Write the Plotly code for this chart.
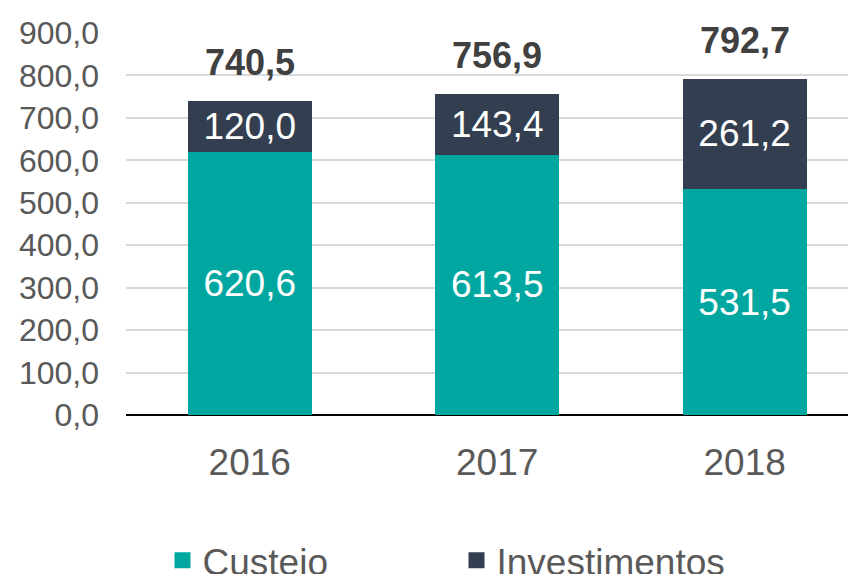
import plotly.graph_objects as go

anos = ["2016", "2017", "2018"]
custeio = [620.6, 613.5, 531.5]
investimentos = [120.0, 143.4, 261.2]
totais = [740.5, 756.9, 792.7]


def br(v):
    return f"{v:.1f}".replace(".", ",")


FONT = "Liberation Sans, Arial, sans-serif"
TEAL = "#00A7A1"
NAVY = "#333F50"

fig = go.Figure()
for nome, vals, cor in [("Custeio", custeio, TEAL), ("Investimentos", investimentos, NAVY)]:
    fig.add_trace(
        go.Bar(
            x=anos,
            y=vals,
            name=nome,
            marker=dict(color=cor, line=dict(width=0)),
            text=[br(v) for v in vals],
            textposition="inside",
            insidetextanchor="middle",
            textfont=dict(color="white", size=37, family=FONT),
            width=0.5,
            showlegend=False,
        )
    )

# itens da legenda (quadrados maiores)
for nome, cor in [("Custeio", TEAL), ("Investimentos", NAVY)]:
    fig.add_trace(
        go.Scatter(
            x=[None],
            y=[None],
            mode="markers",
            name=nome,
            marker=dict(symbol="square", size=19, color=cor),
        )
    )

# totais acima das barras
for i, t in enumerate(totais):
    fig.add_annotation(
        x=i,
        y=t,
        xref="x",
        yref="y",
        text=f"<b>{br(t)}</b>",
        showarrow=False,
        yanchor="middle",
        yshift=38,
        font=dict(size=36, color="#404040", family=FONT),
    )

fig.update_layout(
    barmode="stack",
    width=856,
    height=574,
    margin=dict(l=118, r=8, t=25, b=167, autoexpand=False),
    paper_bgcolor="white",
    plot_bgcolor="white",
    separators=",.",
    font=dict(family=FONT, color="#595959", size=32),
    uniformtext=dict(mode="show", minsize=30),
    legend=dict(
        orientation="h",
        traceorder="normal",
        itemsizing="trace",
        x=0.050,
        xanchor="left",
        yref="container",
        y=0.037,
        yanchor="middle",
        font=dict(size=37, color="#595959"),
        entrywidth=249,
        entrywidthmode="pixels",
    ),
    showlegend=True,
)
fig.update_xaxes(
    type="category",
    range=[-0.5, 2.45],
    showgrid=False,
    showline=False,
    ticks="",
    tickfont=dict(size=37, color="#595959"),
    ticklabelstandoff=22,
)
fig.update_yaxes(
    range=[0, 900],
    dtick=100,
    tickformat=".1f",
    showgrid=True,
    gridcolor="#D9D9D9",
    gridwidth=1.5,
    zeroline=True,
    zerolinecolor="black",
    zerolinewidth=2,
    tickfont=dict(size=32, color="#595959"),
    ticklabelstandoff=26,
)

fig.write_html("out.html")
